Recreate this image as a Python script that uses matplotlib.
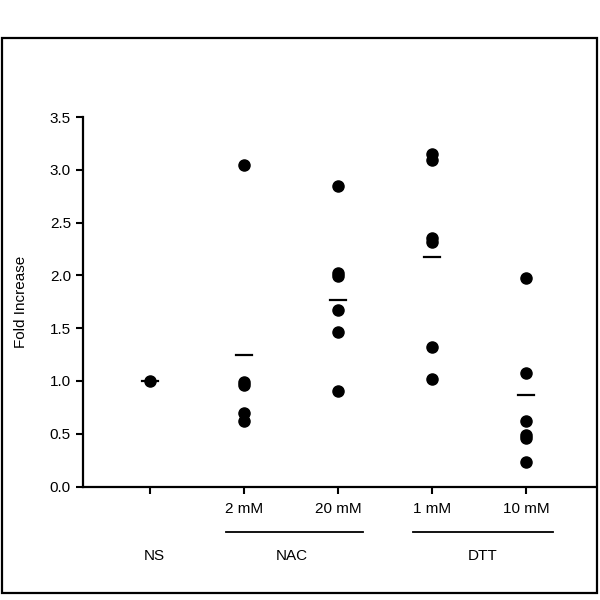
import matplotlib.pyplot as plt
from matplotlib.patches import Rectangle

plt.rcParams['font.family'] = ['Liberation Sans', 'DejaVu Sans']

# values
dose_labels = ['', '2 mM', '20 mM', '1 mM', '10 mM']
ns = [1.0]
nac_2mm = [3.05, 0.99, 0.96, 0.70, 0.62]
nac_20mm = [2.85, 2.02, 1.99, 1.67, 1.46, 0.91]
dtt_1mm = [3.15, 3.09, 2.35, 2.32, 1.32, 1.02]
dtt_10mm = [1.98, 1.08, 0.62, 0.49, 0.46, 0.23]
means = [1.0, 1.25, 1.77, 2.17, 0.87]
groups = ['NS', 'NAC', 'DTT']

series = [ns, nac_2mm, nac_20mm, dtt_1mm, dtt_10mm]

fig = plt.figure(figsize=(6, 6), dpi=100)
ax = fig.add_axes([0.138, 0.189, 0.854, 0.616])

# outer frame round the whole figure
fig.patches.append(Rectangle((0.004, 0.012), 0.991, 0.925, transform=fig.transFigure,
                             fill=False, lw=1.6, edgecolor='black'))

for i, vals in enumerate(series):
    x = i + 1
    ax.plot([x] * len(vals), vals, 'o', color='black', ms=8, zorder=3)
    ax.plot([x - 0.085, x + 0.085], [means[i], means[i]], color='black', lw=1.6, zorder=2)

ax.set_xlim(0.288, 5.73)
ax.set_ylim(0, 3.5)
ax.set_yticks([0, 0.5, 1.0, 1.5, 2.0, 2.5, 3.0, 3.5])
ax.set_yticklabels(['0.0', '0.5', '1.0', '1.5', '2.0', '2.5', '3.0', '3.5'], fontsize=11)
ax.set_xticks([1, 2, 3, 4, 5])
ax.set_xticklabels([])
ax.tick_params(direction='out', length=5, width=1.5)

for s in ['top', 'right']:
    ax.spines[s].set_visible(False)
for s in ['left', 'bottom']:
    ax.spines[s].set_linewidth(1.6)

ax.set_ylabel('Fold Increase', fontsize=11)
ax.yaxis.set_label_coords(-0.106, 0.5)

# dose labels under ticks
tr = ax.get_xaxis_transform()
for i, lab in enumerate(dose_labels):
    ax.text(i + 1, -0.061, lab, transform=tr, ha='center', va='center', fontsize=11)

# group lines and names
ax.plot([1.805, 3.26], [-0.124, -0.124], transform=tr, color='black', lw=1.3, clip_on=False)
ax.plot([3.80, 5.28], [-0.124, -0.124], transform=tr, color='black', lw=1.3, clip_on=False)
ax.text(1.05, -0.1875, groups[0], transform=tr, ha='center', va='center', fontsize=11)
ax.text(2.51, -0.1875, groups[1], transform=tr, ha='center', va='center', fontsize=11)
ax.text(4.53, -0.1875, groups[2], transform=tr, ha='center', va='center', fontsize=11)

fig.savefig('out.png', dpi=100)
